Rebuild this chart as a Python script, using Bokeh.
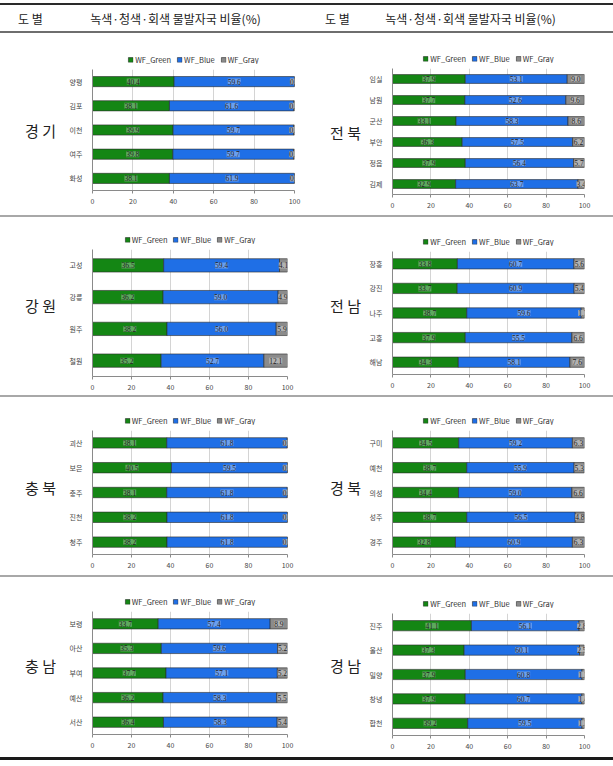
from bokeh.plotting import figure
from bokeh.models import (ColumnDataSource, FactorRange, Range1d, Legend, LegendItem,
                          LabelSet, Label, FixedTicker, Div)
from bokeh.layouts import column, row
from bokeh.embed import file_html
from bokeh.resources import INLINE

# ---------------- data ----------------
series_names = ["WF_Green", "WF_Blue", "WF_Gray"]

gg_regions = ["양평", "김포", "이천", "여주", "화성"]
gg_green = [40.4, 38.1, 39.9, 39.8, 38.1]
gg_blue = [59.6, 61.6, 59.7, 59.7, 61.9]
gg_gray = [0.1, 0.3, 0.4, 0.5, 0.1]

jb_regions = ["임실", "남원", "군산", "부안", "정읍", "김제"]
jb_green = [37.9, 37.7, 33.1, 36.3, 37.9, 32.9]
jb_blue = [53.1, 52.6, 58.3, 57.5, 56.4, 63.7]
jb_gray = [9.0, 9.6, 8.6, 6.2, 5.7, 3.4]

gw_regions = ["고성", "강릉", "원주", "철원"]
gw_green = [36.5, 36.2, 38.2, 35.2]
gw_blue = [59.4, 59.0, 56.0, 52.7]
gw_gray = [4.1, 4.9, 5.9, 12.1]

jn_regions = ["장흥", "강진", "나주", "고흥", "해남"]
jn_green = [33.8, 33.7, 38.7, 37.9, 34.3]
jn_blue = [60.7, 60.9, 59.6, 55.5, 58.1]
jn_gray = [5.6, 5.4, 1.7, 6.6, 7.6]

cb_regions = ["괴산", "보은", "충주", "진천", "청주"]
cb_green = [38.1, 40.5, 38.1, 38.2, 38.2]
cb_blue = [61.8, 59.5, 61.8, 61.8, 61.8]
cb_gray = [0.2, 0.0, 0.1, 0.0, 0.0]

gb_regions = ["구미", "예천", "의성", "성주", "경주"]
gb_green = [34.5, 38.7, 34.4, 38.7, 32.8]
gb_blue = [59.2, 55.9, 59.0, 56.5, 60.9]
gb_gray = [6.3, 5.3, 6.6, 4.8, 6.3]

cn_regions = ["보령", "아산", "부여", "예산", "서산"]
cn_green = [33.7, 35.3, 37.7, 36.2, 36.4]
cn_blue = [57.4, 59.6, 57.1, 58.3, 58.3]
cn_gray = [8.9, 5.2, 5.2, 5.5, 5.4]

gn_regions = ["진주", "울산", "밀양", "창녕", "합천"]
gn_green = [41.1, 37.3, 37.9, 37.9, 39.2]
gn_blue = [56.1, 60.1, 60.8, 60.7, 59.5]
gn_gray = [2.8, 2.5, 1.3, 1.4, 1.3]

x_ticks = [0, 20, 40, 60, 80, 100]
header_col1 = "도 별"
header_col2 = "녹색·청색·회색 물발자국 비율(%)"

# ---------------- style ----------------
FONT = "Noto Sans CJK KR"
GREEN = "#148614"
BLUE = "#1f6fe6"
GRAY = "#8b8b8b"
COLORS = [GREEN, BLUE, GRAY]
BOX = ["#6aae6a", "#79a8ef", "#b9b9b9"]
PAGE_W = 613


def base_fig(width, height, **kw):
    p = figure(width=width, height=height, output_backend="svg", toolbar_location=None,
               title=None, **kw)
    p.outline_line_color = None
    return p


def make_source(cats, g, b, gr):
    gm = [v / 2 for v in g]
    bm = [a + v / 2 for a, v in zip(g, b)]
    rm = [a + c + v / 2 for a, c, v in zip(g, b, gr)]
    return ColumnDataSource(dict(
        cat=cats, WF_Green=g, WF_Blue=b, WF_Gray=gr,
        gm=gm, bm=bm, rm=rm,
        gt=[f"{v:.1f}" for v in g], bt=[f"{v:.1f}" for v in b],
        rt=[f"{v:.1f}" for v in gr]))


def legend_fig(cats, src, width, height, bl, br):
    # legend strip: same stacked bars, hidden, used only for the legend swatches
    p = base_fig(width, height, x_axis_location=None, y_axis_location=None,
                 x_range=Range1d(0, 100),
                 y_range=FactorRange(factors=list(reversed(cats)), range_padding=0),
                 min_border_left=bl, min_border_right=br,
                 min_border_top=max(height - 15, 0), min_border_bottom=5)
    p.grid.visible = False
    rs = p.hbar_stack(series_names, y="cat", height=0.42, source=src,
                      fill_color=COLORS, line_color="#2a2a2a", line_width=0.6)
    for r in rs:
        r.visible = False
    leg = Legend(items=[LegendItem(label=n, renderers=[r]) for n, r in zip(series_names, rs)],
                 orientation="horizontal", location="center")
    leg.inactive_fill_alpha = 0
    leg.label_text_font = FONT
    leg.label_text_font_size = "7.5px"
    leg.label_text_color = "#333333"
    leg.glyph_width = 6
    leg.glyph_height = 6
    leg.label_height = 8
    leg.label_width = 10
    leg.label_standoff = 2
    leg.spacing = 5
    leg.padding = 1
    leg.margin = 0
    leg.border_line_color = None
    leg.background_fill_alpha = 0
    p.add_layout(leg)
    return p


def chart(cats, g, b, gr, width, height, bl, br, bt, bb):
    rev = list(reversed(cats))
    src = make_source(cats, g, b, gr)
    p = base_fig(width, height - bt,
                 y_range=FactorRange(factors=rev, range_padding=0),
                 x_range=Range1d(0, 100),
                 min_border_left=bl, min_border_right=br,
                 min_border_top=0, min_border_bottom=bb)
    p.hbar_stack(series_names, y="cat", height=0.42, source=src,
                 fill_color=COLORS, line_color="#2a2a2a", line_width=0.6)
    for xcol, tcol, box in (("gm", "gt", BOX[0]), ("bm", "bt", BOX[1]), ("rm", "rt", BOX[2])):
        ls = LabelSet(x=xcol, y="cat", text=tcol, source=src,
                      text_align="center", text_baseline="middle",
                      text_font=FONT, text_font_size="7.5px", text_color="#1e1e1e",
                      background_fill_color=box, background_fill_alpha=0.85)
        p.add_layout(ls)

    p.xaxis.ticker = FixedTicker(ticks=x_ticks)
    p.xgrid.ticker = FixedTicker(ticks=x_ticks)
    p.xgrid.grid_line_color = "#d4d4d4"
    p.ygrid.grid_line_color = None
    p.xaxis.minor_tick_line_color = None
    p.xaxis.major_tick_in = 0
    p.xaxis.major_tick_out = 3
    for ax in (p.xaxis, p.yaxis):
        ax.axis_line_color = "#8a8a8a"
        ax.major_tick_line_color = "#8a8a8a"
        ax.major_label_text_font = FONT
        ax.major_label_text_font_size = "7px"
        ax.major_label_text_color = "#444444"
    p.yaxis.major_tick_line_color = None
    p.yaxis.major_label_standoff = 4
    p.xaxis.major_label_standoff = 4
    return column(legend_fig(cats, src, width, bt, bl, br), p, spacing=0)


def text_fig(width, height, items, size):
    p = base_fig(width, height, x_range=Range1d(0, width), y_range=Range1d(0, height),
                 x_axis_location=None, y_axis_location=None, min_border=0)
    p.grid.visible = False
    for cx, cy, t in items:
        p.add_layout(Label(x=cx, y=height - cy, text=t, text_font=FONT, text_font_size=size,
                           text_color="#222222", text_align="center", text_baseline="middle"))
    return p


def hline(height, color, width=PAGE_W):
    return Div(text="", width=width, height=height,
               styles={"background-color": color, "margin": "0", "padding": "0"})


hdr = text_fig(PAGE_W, 26, [(30, 13, header_col1), (175, 13, header_col2),
                            (337, 13, header_col1), (470, 13, header_col2)], "12px")

LW, CLW, RW, CRW = 60, 250, 52, 251


def make_row(h, left, right, ly, ry):
    (lname, lc, lg, lb, lgr, lbr, lbt, lbb) = left
    (rname, rc, rg, rb, rgr, rbt, rbb) = right
    return row(
        text_fig(LW, h, [(40, ly, lname)], "15px"),
        chart(lc, lg, lb, lgr, CLW, h, 32, lbr, lbt, lbb),
        text_fig(RW, h, [(35, ry, rname)], "15px"),
        chart(rc, rg, rb, rgr, CRW, h, 30, 29, rbt, rbb),
        spacing=0,
    )


row1 = make_row(182,
                ("경 기", gg_regions, gg_green, gg_blue, gg_gray, 16, 36, 25),
                ("전 북", jb_regions, jb_green, jb_blue, jb_gray, 35, 21),
                97, 99)
row2 = make_row(178,
                ("강 원", gw_regions, gw_green, gw_blue, gw_gray, 23, 32, 19),
                ("전 남", jn_regions, jn_green, jn_blue, jn_gray, 34, 21),
                88, 88)
row3 = make_row(178,
                ("충 북", cb_regions, cb_green, cb_blue, cb_gray, 23, 33, 21),
                ("경 북", gb_regions, gb_green, gb_blue, gb_gray, 33, 21),
                90, 90)
row4 = make_row(180,
                ("충 남", cn_regions, cn_green, cn_blue, cn_gray, 23, 34, 23),
                ("경 남", gn_regions, gn_green, gn_blue, gn_gray, 36, 22),
                88, 88)

page = column(
    hline(3, "#ffffff"),
    hline(2, "#2a2a2a"),
    hdr,
    hline(2, "#6e6e6e"),
    row1,
    hline(2, "#a8a8a8"),
    row2,
    hline(2, "#a8a8a8"),
    row3,
    hline(2, "#a8a8a8"),
    row4,
    hline(3, "#1a1a1a"),
    spacing=0,
)

open("out.html", "w").write(file_html(page, INLINE))
